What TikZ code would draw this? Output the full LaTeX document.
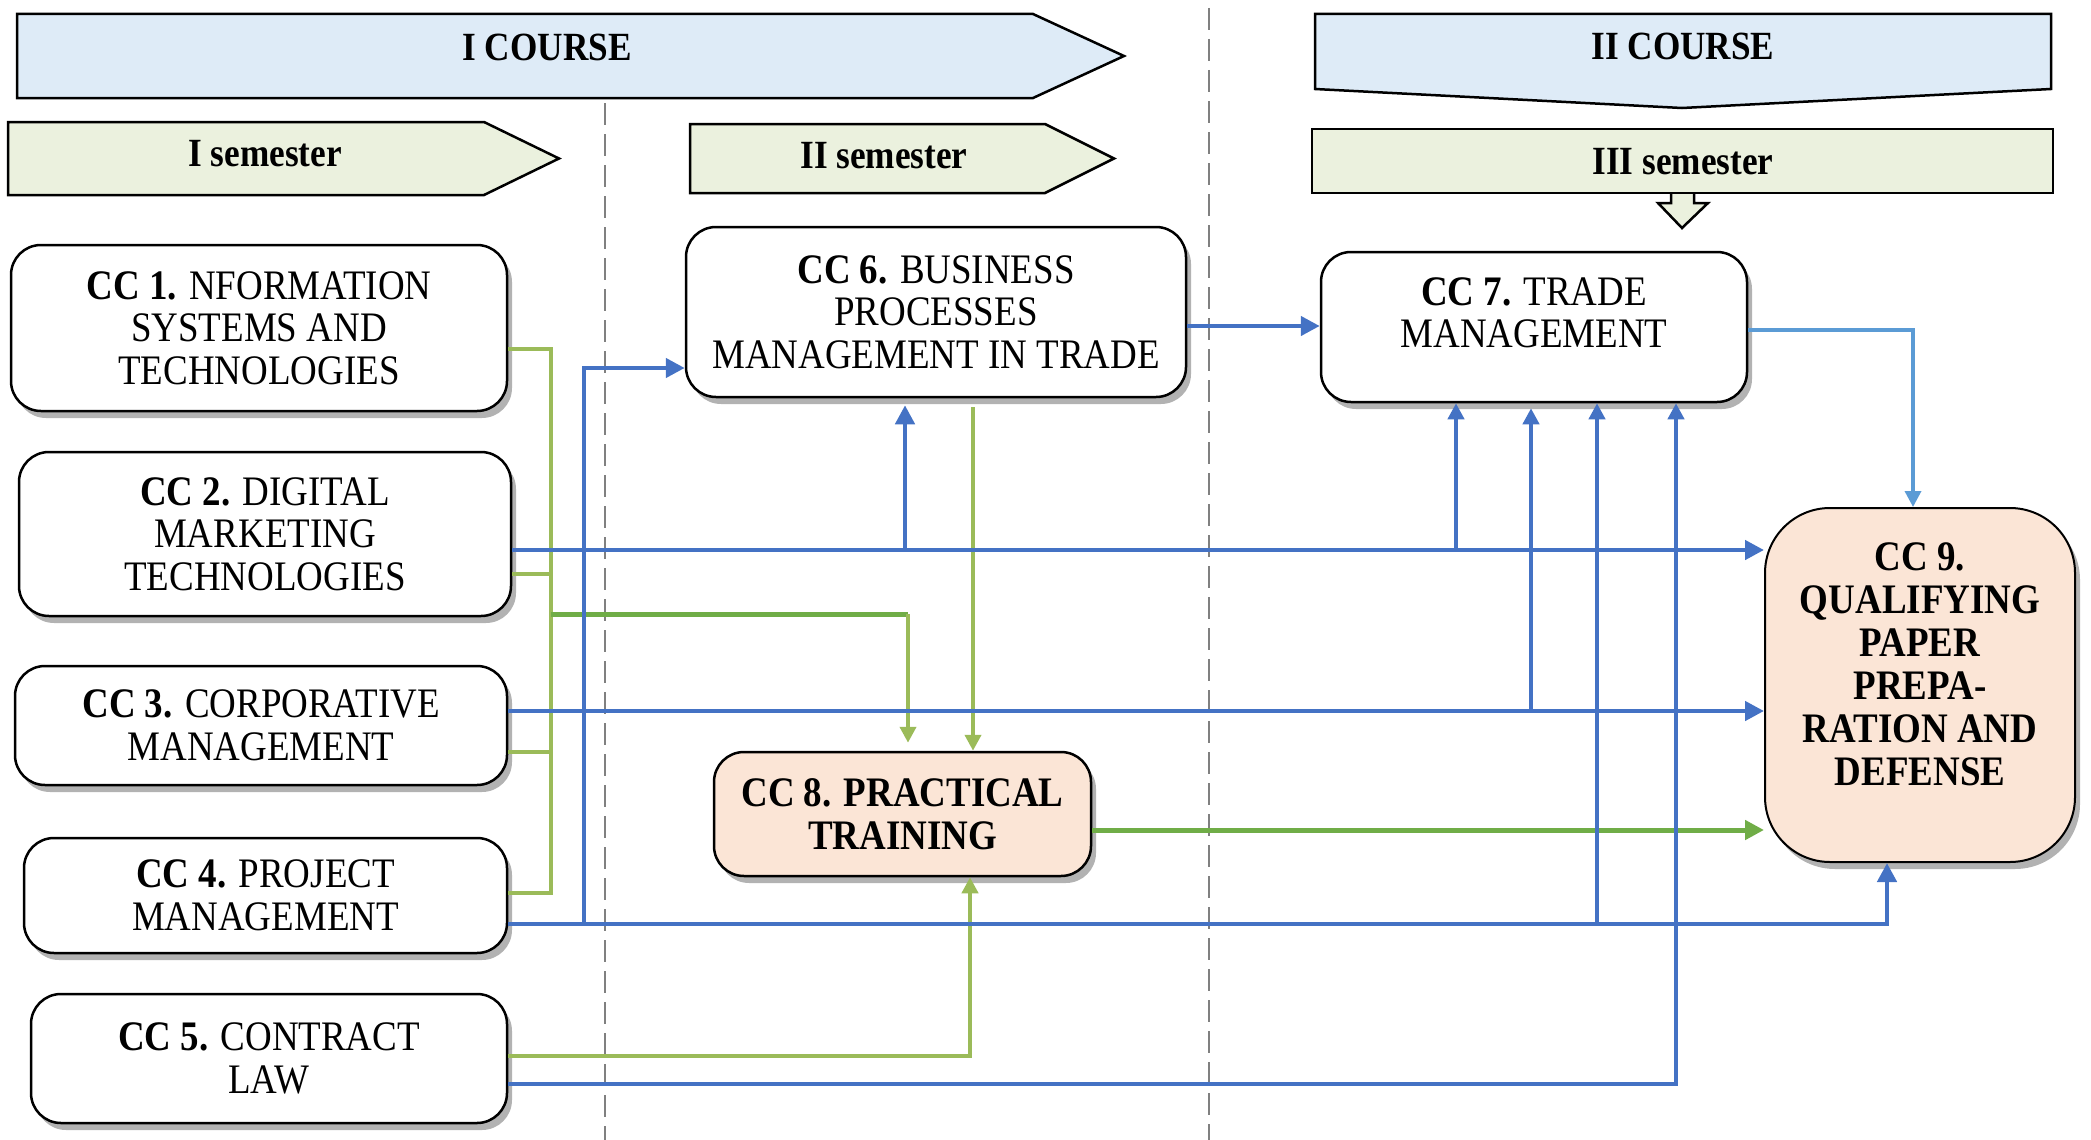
\documentclass[tikz,border=0pt]{standalone}
\usepackage{fontspec}
\setmainfont{Liberation Serif}[FakeStretch=0.88]
\usetikzlibrary{arrows.meta,shadows}

\definecolor{cc_blue}{HTML}{4472C4}
\definecolor{cc_lblue}{HTML}{5B9BD5}
\definecolor{cc_green}{HTML}{70AD47}
\definecolor{cc_lgreen}{HTML}{9BBB59}
\definecolor{course_fill}{HTML}{DEEBF7}
\definecolor{sem_fill}{HTML}{EBF1DE}
\definecolor{peach_fill}{HTML}{FBE5D6}

\begin{document}
\begin{tikzpicture}[x=1pt,y=-1pt,>={Triangle[length=19pt,width=19pt]},
    cc_text/.style={align=center,font=\fontsize{42}{42.5}\selectfont},
    cc_node/.style={cc_text,draw,line width=2.5pt,rounded corners=30pt,fill=white,
        drop shadow={shadow xshift=5pt,shadow yshift=-7pt,fill=black,opacity=0.3}},
    head_text/.style={font=\bfseries\fontsize{40}{40}\selectfont},
    banner/.style={draw,line width=2.5pt},
    blue_line/.style={draw=cc_blue,line width=4.5pt},
    lblue_line/.style={draw=cc_lblue,line width=3.5pt},
    green_line/.style={draw=cc_lgreen,line width=4.5pt},
    dgreen_line/.style={draw=cc_green,line width=5pt},
    small_arrow/.style={-{Triangle[length=16pt,width=16pt]}},
    sep_line/.style={draw=gray,line width=2pt,dash pattern=on 22pt off 9pt}]

    \useasboundingbox (0,0) rectangle (2091,1140);

    % course / semester banners
    \draw[banner,fill=course_fill] (17,14) -- (1033,14) -- (1124,56) -- (1033,98) -- (17,98) -- cycle;
    \node[head_text] (course1) at (547,47) {I COURSE};
    \draw[banner,fill=course_fill] (1315,14) -- (2051,14) -- (2051,89) -- (1682,108) -- (1315,89) -- cycle;
    \node[head_text] (course2) at (1683,46) {II COURSE};

    \draw[banner,fill=sem_fill] (8,122) -- (484,122) -- (559,158.5) -- (484,195) -- (8,195) -- cycle;
    \node[head_text] (sem1) at (265,154) {I semester};
    \draw[banner,fill=sem_fill] (690,124) -- (1045,124) -- (1114,158.5) -- (1045,193) -- (690,193) -- cycle;
    \node[head_text] (sem2) at (884,156) {II semester};
    \draw[banner,fill=sem_fill] (1671,193) -- (1671,203) -- (1658,203) -- (1682,228) -- (1708,203) -- (1694,203) -- (1694,193);
    \draw[banner,fill=sem_fill] (1312,129) rectangle (2053,193);
    \node[head_text] (sem3) at (1683,162) {III semester};

    \draw[sep_line] (605,103) -- (605,1140);
    \draw[sep_line] (1209,8) -- (1209,1140);

    % disciplines
    \node[cc_node,minimum width=496pt,minimum height=166pt] (n1) at (259,328) {\textbf{CC 1.} NFORMATION\\SYSTEMS AND\\TECHNOLOGIES};
    \node[cc_node,minimum width=492pt,minimum height=164pt] (n2) at (265,534) {\textbf{CC 2.} DIGITAL\\MARKETING\\TECHNOLOGIES};
    \node[cc_node,minimum width=492pt,minimum height=119pt] (n3) at (261,725.5) {\textbf{CC 3.} CORPORATIVE\\MANAGEMENT};
    \node[cc_node,minimum width=483pt,minimum height=115pt] (n4) at (265.5,895.5) {\textbf{CC 4.} PROJECT\\MANAGEMENT};
    \node[cc_node,minimum width=476pt,minimum height=129pt] (n5) at (269,1058.5) {\textbf{CC 5.} CONTRACT\\LAW};
    \node[cc_node,minimum width=500pt,minimum height=170pt] (n6) at (936,312) {\textbf{CC 6.} BUSINESS\\PROCESSES\\MANAGEMENT IN TRADE};
    \node[cc_node,minimum width=426pt,minimum height=150pt] (n7) at (1534,327) {};
    \node[cc_text] (t7) at (1534,313) {\textbf{CC 7.} TRADE\\MANAGEMENT};
    \node[cc_node,fill=peach_fill,minimum width=377pt,minimum height=124pt,font=\bfseries\fontsize{42}{42.5}\selectfont] (n8) at (902.5,814) {CC 8. PRACTICAL\\TRAINING};
    \node[cc_node,fill=peach_fill,line width=2pt,rounded corners=65pt,minimum width=310pt,minimum height=354pt] (n9) at (1920,685) {};
    \node[cc_text,font=\bfseries\fontsize{42}{43}\selectfont] (t9) at (1920,664) {CC 9.\\QUALIFYING\\PAPER\\PREPA-\\RATION AND\\DEFENSE};

    % rows and columns of the connectors
    \coordinate (row1) at (0,349);
    \coordinate (row2g) at (0,574);
    \coordinate (row2b) at (0,550);
    \coordinate (row8g) at (0,614);
    \coordinate (row3b) at (0,711);
    \coordinate (row3g) at (0,752);
    \coordinate (row4g) at (0,893);
    \coordinate (row4b) at (0,924);
    \coordinate (row5g) at (0,1056);
    \coordinate (row5b) at (0,1084);
    \coordinate (row6b) at (0,368);
    \coordinate (row67) at (0,326);
    \coordinate (row79) at (0,330);
    \coordinate (row89) at (0,830);
    \coordinate (col_gbus) at (551,0);
    \coordinate (col_bbus) at (584,0);
    \coordinate (col_up6) at (905,0);
    \coordinate (col_g8) at (908,0);
    \coordinate (col_d6) at (973,0);
    \coordinate (col_up8) at (970,0);
    \coordinate (col7a) at (1456,0);
    \coordinate (col7b) at (1531,0);
    \coordinate (col7c) at (1597,0);
    \coordinate (col7d) at (1676,0);
    \coordinate (col9b) at (1887,0);
    \coordinate (col9t) at (1913,0);

    % green links
    \draw[green_line] (n1.east |- row1) -- (col_gbus |- row1) -- (col_gbus |- row4g) -- (n4.east |- row4g);
    \draw[green_line] (n2.east |- row2g) -- (col_gbus |- row2g);
    \draw[green_line] (n3.east |- row3g) -- (col_gbus |- row3g);
    \draw[dgreen_line] (col_gbus |- row8g) -- (col_g8 |- row8g);
    \draw[green_line,small_arrow,shorten >=8pt] (col_g8 |- row8g) -- (col_g8 |- n8.north);
    \draw[green_line,small_arrow,shorten <=9pt] (col_d6 |- n6.south) -- (col_d6 |- n8.north);
    \draw[green_line,small_arrow] (n5.east |- row5g) -- (col_up8 |- row5g) -- (col_up8 |- n8.south);
    \draw[dgreen_line,->] (n8.east |- row89) -- (n9.west |- row89);

    % blue links
    \draw[blue_line,->] (n4.east |- row4b) -- (col9b |- row4b) -- (col9b |- n9.south);
    \draw[blue_line,->] (col_bbus |- row4b) -- (col_bbus |- row6b) -- (n6.west |- row6b);
    \draw[blue_line,small_arrow] (col7c |- row4b) -- (col7c |- n7.south);
    \draw[blue_line,->] (n2.east |- row2b) -- (n9.west |- row2b);
    \draw[blue_line,->,shorten >=7pt] (col_up6 |- row2b) -- (col_up6 |- n6.south);
    \draw[blue_line,small_arrow] (col7a |- row2b) -- (col7a |- n7.south);
    \draw[blue_line,->] (n3.east |- row3b) -- (n9.west |- row3b);
    \draw[blue_line,small_arrow,shorten >=5pt] (col7b |- row3b) -- (col7b |- n7.south);
    \draw[blue_line,small_arrow] (n5.east |- row5b) -- (col7d |- row5b) -- (col7d |- n7.south);
    \draw[blue_line,->] (n6.east |- row67) -- (n7.west |- row67);
    \draw[lblue_line,small_arrow] (n7.east |- row79) -- (col9t |- row79) -- (col9t |- n9.north);
\end{tikzpicture}
\end{document}
